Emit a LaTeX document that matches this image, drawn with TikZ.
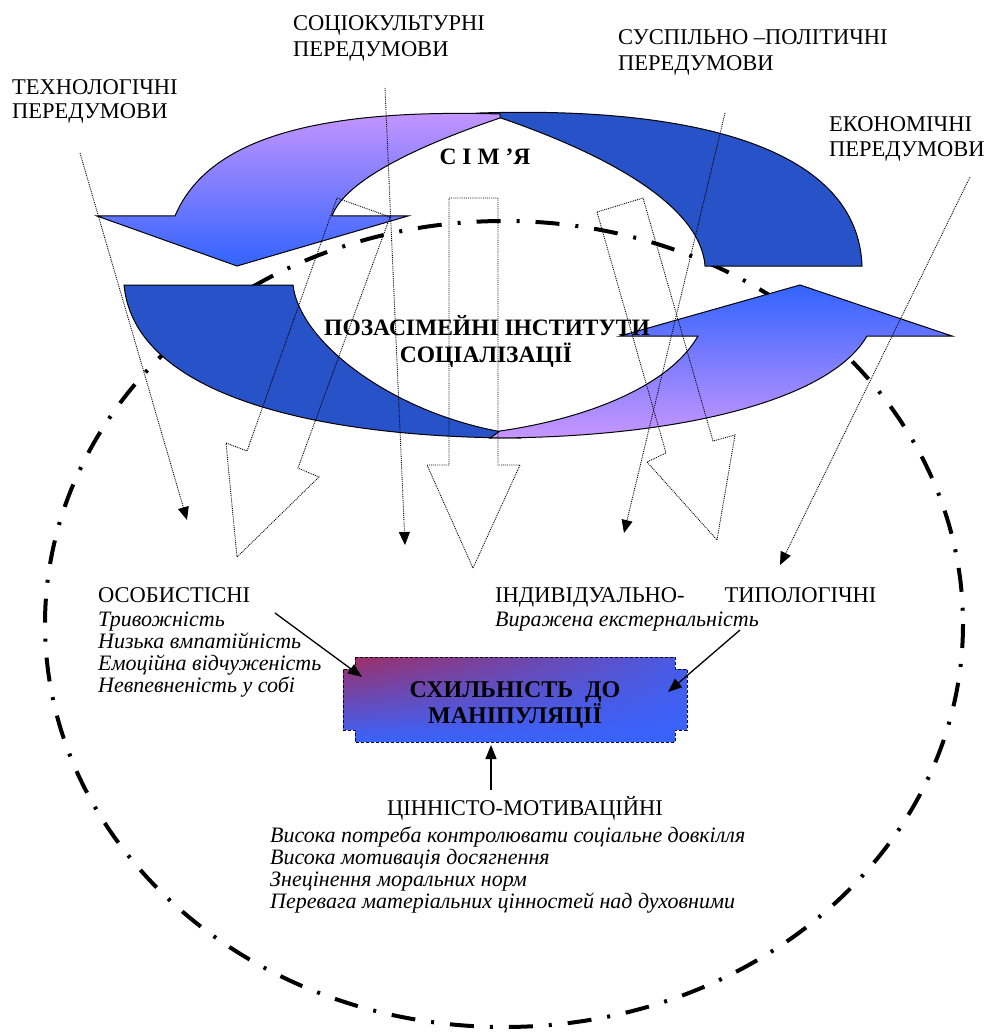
\documentclass[tikz,border=0pt]{standalone}
\usepackage{fontspec}
\setmainfont{Liberation Serif}
\usetikzlibrary{arrows.meta,shadings}
\definecolor{bandblue}{RGB}{40,82,200}
\definecolor{lilac}{RGB}{200,150,255}
\definecolor{brightblue}{RGB}{50,100,255}
\definecolor{boxred}{RGB}{160,45,100}
\definecolor{boxblue}{RGB}{55,100,255}
\begin{document}
\begin{tikzpicture}[x=1pt,y=-1pt,
  lbl/.style={anchor=base west, inner sep=0pt, font=\fontsize{22.5}{26}\selectfont},
  itl/.style={anchor=base west, inner sep=0pt, font=\fontsize{22}{24}\selectfont\itshape},
  boldtxt/.style={anchor=base, inner sep=0pt, font=\fontsize{23.5}{27}\selectfont\bfseries},
  boxtxt/.style={anchor=base, inner sep=0pt, font=\fontsize{24}{27}\selectfont\bfseries},
  band/.style={draw=black, line width=1pt},
  dotarrow/.style={densely dotted, line width=0.9pt, -{Triangle[length=13pt,width=11pt]}},
  hollow/.style={densely dotted, line width=0.9pt, draw=black},
  solidarrow/.style={line width=1.3pt, -{Triangle[length=14pt,width=11pt]}},
  dashdot/.style={line width=4pt, dash pattern=on 24pt off 16pt on 3pt off 16pt},
]
\useasboundingbox (0,0) rectangle (987,1032);

% big dash-dot ellipse
\draw[dashdot] (504,624) ellipse [x radius=459, y radius=403];

% top band (family)
\path[band, fill=bandblue] (480,113) .. controls (700,106) and (858,150) .. (862,266)
  -- (705,266) .. controls (700,200) and (590,148) .. (495,116) -- cycle;
\shade[band, top color=lilac, bottom color=brightblue]
  (500,114) .. controls (300,108) and (205,145) .. (175,216) -- (97,216) -- (237,266)
  -- (408,216) -- (332,216) .. controls (345,180) and (420,145) .. (500,118) -- cycle;

% bottom band (institutions)
\path[band, fill=bandblue] (124,285) -- (293,285) .. controls (300,345) and (400,418) .. (515,434)
  -- (520,438) .. controls (330,438) and (135,400) .. (124,285) -- cycle;
\shade[band, top color=brightblue, bottom color=lilac]
  (500,431) .. controls (590,418) and (670,385) .. (698,336) -- (620,336) -- (800,285)
  -- (952,336) -- (867,336) .. controls (830,400) and (680,438) .. (490,438) -- cycle;

% hollow dotted block arrows
\draw[hollow] (337,198) -- (390,217) -- (298,468) -- (319,477) -- (237,557) -- (226,443) -- (247,451) -- cycle;
\draw[hollow] (449,198) -- (498,198) -- (498,465) -- (520,465) -- (473,568) -- (427,465) -- (449,465) -- cycle;
\draw[hollow] (597,212) -- (643,198) -- (713,441) -- (735,435) -- (717,540) -- (647,462) -- (666,453) -- cycle;

% labels of preconditions
\node[lbl] (tech1) at (12,95) {ТЕХНОЛОГІЧНІ};
\node[lbl] (tech2) at (12,119) {ПЕРЕДУМОВИ};
\node[lbl] (soc1) at (293,31) {СОЦІОКУЛЬТУРНІ};
\node[lbl] (soc2) at (293,57) {ПЕРЕДУМОВИ};
\node[lbl] (pol1) at (618,45) {СУСПІЛЬНО –ПОЛІТИЧНІ};
\node[lbl] (pol2) at (618,71) {ПЕРЕДУМОВИ};
\node[lbl] (eco1) at (829,132) {ЕКОНОМІЧНІ};
\node[lbl] (eco2) at (829,157) {ПЕРЕДУМОВИ};

% thin dotted arrows
\coordinate (t1s) at (80,153);  \coordinate (t1e) at (187,520);
\coordinate (t2s) at (385,88);  \coordinate (t2e) at (405,545);
\coordinate (t3s) at (725,113); \coordinate (t3e) at (624,533);
\coordinate (t4s) at (970,177); \coordinate (t4e) at (780,565);
\draw[dotarrow] (t1s) -- (t1e);
\draw[dotarrow] (t2s) -- (t2e);
\draw[dotarrow] (t3s) -- (t3e);
\draw[dotarrow] (t4s) -- (t4e);

% band texts
\node[boldtxt] (fam) at (485,165) {С І М ’Я};
\node[boldtxt] (inst1) at (487,335) {ПОЗАСІМЕЙНІ ІНСТИТУТИ};
\node[boldtxt] (inst2) at (486,362) {СОЦІАЛІЗАЦІЇ};

% central box
\shade[upper left=boxred, upper right=boxblue!85!boxred, lower left=boxblue, lower right=boxblue]
  (355,657) -- (675,657) -- (675,669) -- (687,669) -- (687,730) -- (675,730) -- (675,742)
  -- (355,742) -- (355,730) -- (343,730) -- (343,669) -- (355,669) -- cycle;
\draw[line width=1pt, dash pattern=on 3pt off 2pt]
  (355,657) -- (675,657) -- (675,669) -- (687,669) -- (687,730) -- (675,730) -- (675,742)
  -- (355,742) -- (355,730) -- (343,730) -- (343,669) -- (355,669) -- cycle;
\node[boxtxt] (box1) at (515,697) {СХИЛЬНІСТЬ\ \ ДО};
\node[boxtxt] (box2) at (515,723) {МАНІПУЛЯЦІЇ};

% factor groups
\node[lbl] (pers) at (98,602) {ОСОБИСТІСНІ};
\node[itl] (pers1) at (98,626) {Тривожність};
\node[itl] (pers2) at (98,648) {Низька вмпатійність};
\node[itl] (pers3) at (98,670) {Емоційна відчуженість};
\node[itl] (pers4) at (98,692) {Невпевненість у собі};

\node[lbl] (ind) at (495,602) {ІНДИВІДУАЛЬНО-\hspace{40pt}ТИПОЛОГІЧНІ};
\node[itl] (ind1) at (495,626) {Виражена екстернальність};

\node[lbl] (val) at (387,815) {ЦІННІСТО-МОТИВАЦІЙНІ};
\node[itl] (val1) at (270,842) {Висока потреба контролювати соціальне довкілля};
\node[itl] (val2) at (270,864) {Висока мотивація досягнення};
\node[itl] (val3) at (270,886) {Знецінення моральних норм};
\node[itl] (val4) at (270,908) {Перевага матеріальних цінностей над духовними};

% arrows into the box
\coordinate (a1s) at (275,613); \coordinate (a1e) at (362,677);
\coordinate (a2s) at (740,630); \coordinate (a2e) at (668,692);
\coordinate (a3s) at (491,790); \coordinate (a3e) at (491,745);
\draw[solidarrow] (a1s) -- (a1e);
\draw[solidarrow] (a2s) -- (a2e);
\draw[solidarrow] (a3s) -- (a3e);
\end{tikzpicture}
\end{document}
